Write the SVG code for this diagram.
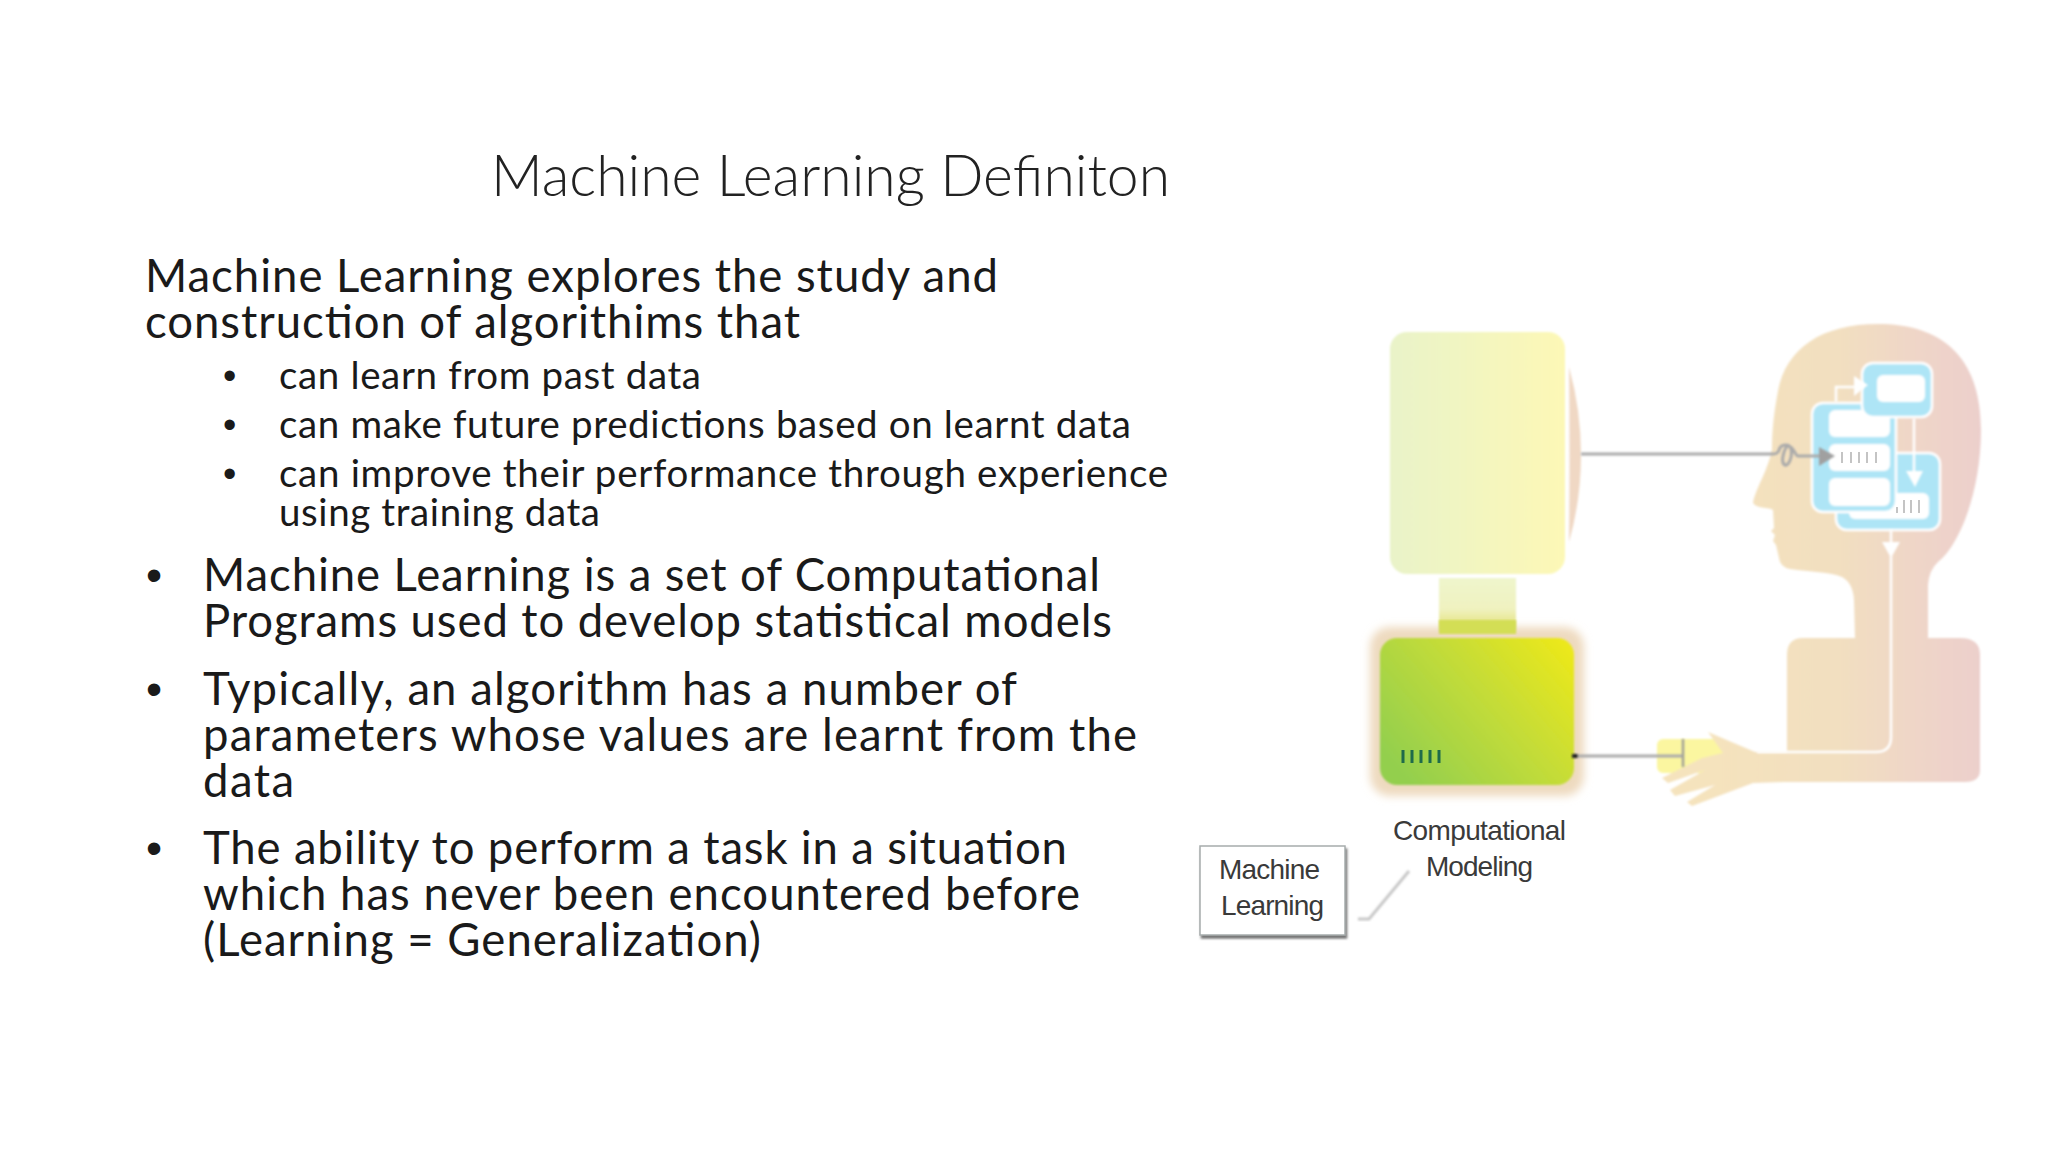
<svg xmlns="http://www.w3.org/2000/svg" width="2048" height="1152" viewBox="0 0 2048 1152">
<style>
text{fill:#1a1a1a;font-family:Lato,"Carlito","Liberation Sans",sans-serif;white-space:pre}
.title{font-size:57px;font-weight:300;fill:#222}
.body{font-size:45.5px}
.sub{font-size:38.5px}
.b1{font-family:"Liberation Sans",sans-serif;font-size:46px}
.b2{font-family:"Liberation Sans",sans-serif;font-size:38px}
.lab{font-family:"Liberation Sans",Arial,sans-serif;font-size:28px;fill:#3a3a3a}
.wl{fill:none;stroke:#fff;stroke-width:2.5}
.wa{fill:#fff}
.blue{fill:#aee5f6;stroke:#fff;stroke-width:2.5}
.inner{fill:#fff}
.gt{stroke:#c4c4c4;stroke-width:2}
.dt{stroke:#1f6b4a;stroke-width:3}
</style>
<defs>
<linearGradient id="gScreen" x1="0" x2="1" y1="0" y2="0"><stop offset="0" stop-color="#e9f3c9"/><stop offset="1" stop-color="#fdf8b6"/></linearGradient>
<linearGradient id="gNeck" x1="0" x2="0" y1="0" y2="1"><stop offset="0" stop-color="#eff5cc"/><stop offset=".55" stop-color="#f0f2c0"/><stop offset=".8" stop-color="#e6e58c"/><stop offset="1" stop-color="#d3de55"/></linearGradient>
<linearGradient id="gGreen" x1="0" x2="1" y1=".75" y2=".1"><stop offset="0" stop-color="#93cf4e"/><stop offset=".55" stop-color="#c4dc38"/><stop offset="1" stop-color="#ece81a"/></linearGradient>
<linearGradient id="gHead" gradientUnits="userSpaceOnUse" x1="1700" x2="1981" y1="0" y2="0"><stop offset="0" stop-color="#f5e3bd"/><stop offset=".5" stop-color="#f2dfc0"/><stop offset=".78" stop-color="#efd5c8"/><stop offset="1" stop-color="#eccfcc"/></linearGradient>
<filter id="soft" x="-5%" y="-5%" width="110%" height="110%"><feGaussianBlur stdDeviation="0.8"/></filter>
<filter id="glow" x="-15%" y="-15%" width="130%" height="130%"><feGaussianBlur stdDeviation="4.5"/></filter>
<filter id="shadow" x="-10%" y="-10%" width="120%" height="120%"><feDropShadow dx="1.5" dy="3" stdDeviation="1" flood-color="#777"/></filter>
</defs>
<rect width="2048" height="1152" fill="#fff"/>
<g id="slide-text">
<text class="title" x="491" y="196" textLength="679">Machine Learning Definiton</text>
<text class="body" x="145" y="291.500" textLength="853">Machine Learning explores the study and</text>
<text class="body" x="145" y="337.500" textLength="655">construction of algorithims that</text>
<text class="b2" x="223" y="388.500">•</text><text class="sub" x="279" y="388.500" textLength="422">can learn from past data</text>
<text class="b2" x="223" y="437.500">•</text><text class="sub" x="279" y="437.500" textLength="852">can make future predictions based on learnt data</text>
<text class="b2" x="223" y="486.500">•</text><text class="sub" x="279" y="486.500" textLength="889">can improve their performance through experience</text>
<text class="sub" x="279" y="525.500" textLength="321">using training data</text>
<text class="b1" x="146" y="590.500">•</text><text class="body" x="203" y="590.500" textLength="897">Machine Learning is a set of Computational</text>
<text class="body" x="203" y="636.500" textLength="909">Programs used to develop statistical models</text>
<text class="b1" x="146" y="704.500">•</text><text class="body" x="203" y="704.500" textLength="814">Typically, an algorithm has a number of</text>
<text class="body" x="203" y="750.500" textLength="934">parameters whose values are learnt from the</text>
<text class="body" x="203" y="796.500" textLength="91">data</text>
<text class="b1" x="146" y="863.500">•</text><text class="body" x="203" y="863.500" textLength="864">The ability to perform a task in a situation</text>
<text class="body" x="203" y="909.500" textLength="877">which has never been encountered before</text>
<text class="body" x="203" y="955.500" textLength="558">(Learning = Generalization)</text>
</g>
<g id="screen" filter="url(#soft)">
<rect x="1390" y="332" width="175" height="242" rx="17" fill="url(#gScreen)"/>
<path d="M1569 367 Q1570 455 1569 542 Q1581 500 1581 455 Q1581 410 1569 367Z" fill="#f0d8c4"/>
<rect x="1439" y="578" width="77" height="56" fill="url(#gNeck)"/>
</g>
<g id="computer">
<rect x="1370" y="627" width="214" height="169" rx="20" fill="#eedabf" filter="url(#glow)"/>
<rect x="1439" y="620" width="77" height="14" fill="#d3de55" filter="url(#soft)"/>
<rect x="1380" y="638" width="194" height="147" rx="17" fill="url(#gGreen)" filter="url(#soft)"/>
<path class="dt" d="M1403 750v13M1412 750v13M1421 750v13M1430 750v13M1439 750v13"/>
</g>
<g id="human">
<g filter="url(#soft)">
<rect x="1657" y="739" width="68" height="34" rx="6" fill="#fbf6a0"/>
<path fill="url(#gHead)" d="M1878 324C1822 324 1786 348 1778 391C1773 417 1772 435 1772 449C1769 468 1756 488 1753 502C1754 509 1770 507 1773 510L1774 528L1771 531L1775 535L1773 541L1776 545L1779 558Q1780 567 1790 569C1810 572 1830 572 1842 577Q1853 583 1854 600L1855 638H1803Q1787 638 1787 655V752H1755L1708 732L1723 753L1702 758L1662 778L1668 783L1705 770L1670 790L1675 796L1715 785L1687 802L1692 806L1753 783L1785 782H1965Q1980 782 1980 770V655Q1980 638 1960 638H1928V585Q1929 570 1938 562C1960 545 1981 490 1981 430C1981 355 1940 324 1878 324Z"/>
<rect class="blue" x="1836" y="453" width="104" height="77" rx="11"/>
<rect class="inner" x="1849" y="493" width="80" height="26" rx="6"/>
<rect class="blue" x="1812" y="403" width="84" height="109" rx="11"/>
<rect class="inner" x="1829" y="410" width="61" height="27" rx="6"/>
<rect class="inner" x="1829" y="444" width="61" height="27" rx="6"/>
<rect class="inner" x="1829" y="478" width="61" height="28" rx="6"/>
<rect class="blue" x="1862" y="363" width="70" height="54" rx="11"/>
<rect class="inner" x="1877" y="375" width="48" height="27" rx="6"/>
</g>
<path class="gt" d="M1842 452v11M1851 452v11M1859 452v11M1867 452v11M1876 452v11M1897 507v6M1904 500v13M1911 500v13M1919 500v13"/>
</g>
<g id="connectors">
<g filter="url(#soft)">
<path class="wl" d="M1836 402V387H1857"/>
<path class="wa" d="M1854 376L1868 385L1854 396Z"/>
<path class="wl" d="M1914 418V473"/>
<path class="wa" d="M1906 471H1923L1915 487Z"/>
<path class="wl" d="M1891 530V542M1891 556V737Q1891 752 1876 752H1757"/>
<path class="wa" d="M1882 542H1900L1891 558Z"/>
<path d="M1581 454H1773Q1778 454 1779 450C1781 443 1790 444 1791 449C1793 458 1788 466 1785 465C1780 463 1784 448 1788 446C1793 445 1795 456 1798 456H1820" fill="none" stroke="#aaa" stroke-width="3"/>
<path d="M1819 447L1835 456L1819 466Z" fill="#a0a0a0"/>
<path d="M1574 756H1683" stroke="#aaa" stroke-width="3" fill="none"/>
<path d="M1683 739V767" stroke="#a0a098" stroke-width="2.5" fill="none"/>
<rect x="1572" y="754" width="6" height="4" fill="#222"/>
</g>
<path d="M1409 871L1369 919H1358" fill="none" stroke="#c8c8c8" stroke-width="3" filter="url(#soft)"/>
</g>
<g id="label-machine-learning">
<rect x="1200" y="846" width="145" height="89" fill="#fff" stroke="#a6acac" stroke-width="1.5" filter="url(#shadow)"/>
<text class="lab" x="1219" y="879" textLength="101">Machine</text>
<text class="lab" x="1221" y="915" textLength="103">Learning</text>
</g>
<g id="label-computational">
<text class="lab" x="1393" y="840" textLength="173">Computational</text>
<text class="lab" x="1426" y="876" textLength="107">Modeling</text>
</g>
</svg>
